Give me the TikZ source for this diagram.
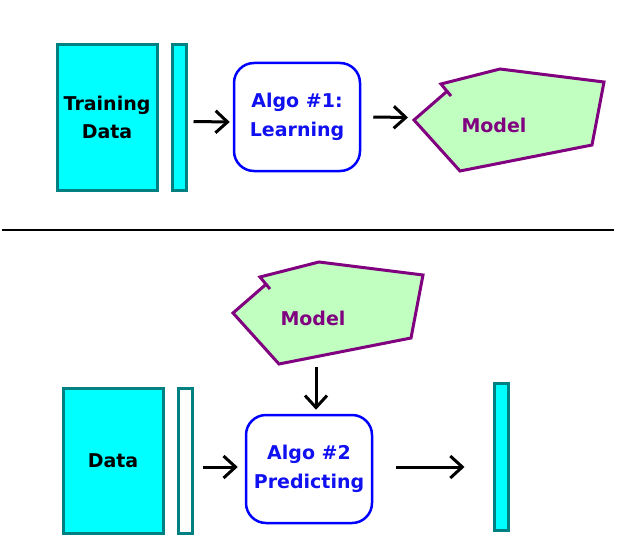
\documentclass[tikz,border=0pt]{standalone}
\usepackage{fontspec}
\setmainfont{DejaVu Sans}
\usetikzlibrary{calc, arrows.meta}
\usetikzlibrary{positioning}

\definecolor{boxline}{HTML}{008080}
\definecolor{boxfill}{HTML}{00FFFF}
\definecolor{algoline}{HTML}{0000FF}
\definecolor{algotext}{HTML}{1010F0}
\definecolor{modelline}{HTML}{800080}
\definecolor{modelfill}{HTML}{C0FFC0}

\tikzset{
    labelfont/.style={font=\fontsize{19}{28.5}\selectfont\bfseries},
    databox/.style={rectangle, draw=boxline, fill=boxfill, line width=3pt, inner sep=0pt,
        minimum width=100pt, minimum height=145pt, align=center, labelfont},
    bar/.style={rectangle, draw=boxline, fill=boxfill, line width=3pt, inner sep=0pt,
        minimum width=14pt, minimum height=145pt},
    algo/.style={rectangle, rounded corners=20pt, draw=algoline, text=algotext, line width=2.5pt,
        minimum width=126pt, minimum height=108pt, align=center, labelfont},
    modeltext/.style={text=modelline, labelfont},
    arr/.style={-{Straight Barb[length=12pt,width=22pt]}, line width=3pt},
    modelpoly/.pic={
        \draw[modelline, fill=modelfill, line width=3pt]
            (-53,-41) -- (6,-56) -- (110,-43) -- (98,20) -- (-34,46) -- (-80,-5) -- (-47,-33.7) -- cycle;
        \draw[modelline, line width=3pt] (-47,-33.7) -- (-43,-29);
    }
}

\begin{document}
\begin{tikzpicture}[x=1pt, y=-1pt]
        \useasboundingbox (0,0) rectangle (617,548);

        % learning: data
        \node[databox] (train) at (107,117.5) {Training\\Data~};
        \node[bar] (bar1) at (179,117.5) {};

        % learning: algorithm
        \node[algo] (algoA) at (297,117) {Algo \#1:\\Learning};

        % learning: model
        \pic at (494,125) {modelpoly};
        \node[modeltext] (modelA) at (494,125) {Model};
        \coordinate (modelAtip) at ($(modelA) + (-80,-5)$);

        % learning arrows
        \draw[arr] ($(bar1.east) + (6,4)$) -- ($(algoA.west) + (-3,5)$);
        \draw[arr] ($(algoA.east) + (12,0)$) -- ($(modelAtip) + (-6,-2.5)$);

        % separator
        \draw[line width=2.5pt] (2,230) -- (614,230);

        % predicting: model
        \pic at (313,318) {modelpoly};
        \node[modeltext] (modelB) at (313,318) {Model};

        % predicting: data
        \node[databox] (data) at (113,460.5) {Data};
        \node[bar, fill=white] (bar2) at (185,460.5) {};

        % predicting: algorithm
        \node[algo] (algoB) at (309,469) {Algo \#2~\\Predicting};

        % predicting: output
        \node[bar, minimum height=147pt] (out) at (501,456.5) {};

        % predicting arrows
        \draw[arr] ($(modelB) + (3,49)$) -- ($(algoB.north) + (7,-4)$);
        \draw[arr] ($(bar2.east) + (9,6.5)$) -- ($(algoB.west) + (-7,-2)$);
        \draw[arr] ($(algoB.east) + (23,-2)$) -- ($(out.west) + (-28,10.5)$);

\end{tikzpicture}
\end{document}
